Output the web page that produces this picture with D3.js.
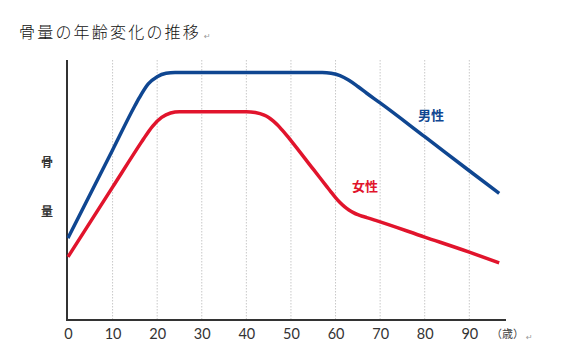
<!DOCTYPE html>
<html>
<head>
<meta charset="utf-8">
<script src="https://cdn.jsdelivr.net/npm/d3@7"></script>
<style>
  body { margin: 0; background: #fff; }
  svg { display: block; }
</style>
</head>
<body>
<div id="chart"></div>
<script>
// ages on the x axis, bone mass is unitless (0-100)
var ticks = [0, 10, 20, 30, 40, 50, 60, 70, 80, 90];
var maleAge   = [0, 10, 15, 16, 18, 20, 22, 24, 57, 59, 61, 63, 65, 67, 70, 80, 90, 96.7];
var maleMass  = [31.5, 65.4, 82.4, 85.5, 90.8, 93.6, 94.9, 95.2, 95.2, 94.9, 94.0, 92.2, 89.8, 87.2, 83.5, 70.5, 57.4, 48.7];
var femaleAge  = [0, 10, 16.5, 17, 19, 21, 23, 25, 40, 42, 44, 45, 46, 47, 48, 49, 50, 55, 58, 59, 60, 61, 62, 63, 64, 65, 66, 67, 69, 80, 90, 96.7];
var femaleMass = [24.3, 51.1, 68.5, 69.8, 74.6, 77.9, 79.6, 80.1, 80.1, 79.8, 78.8, 77.9, 76.6, 75.0, 73.1, 71.1, 69.0, 58.0, 51.4, 49.2, 47.1, 45.2, 43.6, 42.3, 41.3, 40.5, 39.9, 39.4, 38.3, 31.9, 26.1, 22.0];

var width = 572, height = 362;
var svg = d3.select("#chart").append("svg")
    .attr("width", width)
    .attr("height", height);

// title
svg.append("text")
    .attr("x", 19).attr("y", 38)
    .attr("font-family", "Noto Sans CJK JP")
    .attr("font-weight", 300)
    .attr("font-size", 16)
    .attr("letter-spacing", 2.2)
    .attr("fill", "#111")
    .text("骨量の年齢変化の推移");
svg.append("text")
    .attr("x", 204).attr("y", 39)
    .attr("font-family", "DejaVu Sans")
    .attr("font-size", 8)
    .attr("fill", "#999")
    .text("↵");

var x = d3.scaleLinear().domain([0, 90]).range([68, 469.3]);
var y = d3.scaleLinear().domain([0, 100]).range([320, 60]);

// dotted grid
svg.append("g").selectAll("line")
    .data(ticks.slice(1))
    .enter().append("line")
    .attr("x1", d => x(d)).attr("x2", d => x(d))
    .attr("y1", 60).attr("y2", 320)
    .attr("stroke", "#c8c8c8")
    .attr("stroke-width", 1)
    .attr("stroke-dasharray", "1.5,1.5");

// axes
var xAxis = svg.append("g")
    .attr("transform", "translate(0,320)")
    .call(d3.axisBottom(x).tickValues(ticks).tickSize(0).tickPadding(9));
xAxis.select(".domain").remove();
xAxis.selectAll("text")
    .attr("font-family", "Lato")
    .attr("font-size", 14.5)
    .attr("fill", "#333");

svg.append("line")
    .attr("x1", 66).attr("x2", 506)
    .attr("y1", 320).attr("y2", 320)
    .attr("stroke", "#333").attr("stroke-width", 2);
svg.append("line")
    .attr("x1", 67).attr("x2", 67)
    .attr("y1", 60).attr("y2", 321)
    .attr("stroke", "#333").attr("stroke-width", 2);

svg.append("text")
    .attr("x", 491).attr("y", 338)
    .attr("font-family", "Noto Sans CJK JP")
    .attr("font-size", 11)
    .attr("fill", "#444")
    .text("（歳）");
svg.append("text")
    .attr("x", 526).attr("y", 340)
    .attr("font-family", "DejaVu Sans")
    .attr("font-size", 8)
    .attr("fill", "#999")
    .text("↵");

// y label
["骨", "量"].forEach(function (c, i) {
    svg.append("text")
        .attr("x", 47).attr("y", 167 + i * 49)
        .attr("text-anchor", "middle")
        .attr("font-family", "Noto Sans CJK JP")
        .attr("font-weight", 700)
        .attr("font-size", 12)
        .attr("fill", "#333")
        .text(c);
});

// lines
var line = d3.line()
    .x(d => x(d[0]))
    .y(d => y(d[1]))
    .curve(d3.curveMonotoneX);

var series = [
    { name: "男性", age: maleAge, mass: maleMass, color: "#0f4691", lx: 431, ly: 120 },
    { name: "女性", age: femaleAge, mass: femaleMass, color: "#e1142c", lx: 365, ly: 191 }
];

series.forEach(function (s) {
    svg.append("path")
        .datum(d3.zip(s.age, s.mass))
        .attr("d", line)
        .attr("fill", "none")
        .attr("stroke", s.color)
        .attr("stroke-width", 3.5)
        .attr("stroke-linejoin", "round");
    svg.append("text")
        .attr("x", s.lx).attr("y", s.ly)
        .attr("text-anchor", "middle")
        .attr("font-family", "Noto Sans CJK JP")
        .attr("font-weight", 700)
        .attr("font-size", 13)
        .attr("fill", s.color)
        .text(s.name);
});
</script>
</body>
</html>
